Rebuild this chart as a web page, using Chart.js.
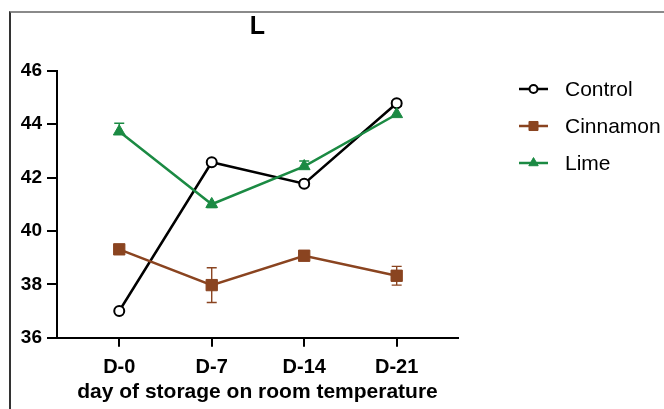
<!DOCTYPE html>
<html><head><meta charset="utf-8">
<script src="https://cdn.jsdelivr.net/npm/chart.js@4"></script>
<style>
html,body{margin:0;padding:0;background:#fff;}
#wrap{position:relative;width:664px;height:409px;overflow:hidden;background:#fff;}
#frame{position:absolute;left:9px;top:11px;width:700px;height:500px;border-top:2px solid #8a8a8a;border-left:2px solid #333;box-sizing:border-box;pointer-events:none;}
canvas{position:absolute;left:0;top:0;}
</style></head><body>
<div id="wrap"><canvas id="c" width="664" height="409"></canvas><div id="frame"></div></div>
<script>
const categories = ['D-0', 'D-7', 'D-14', 'D-21'];
const seriesNames = ['Control', 'Cinnamon', 'Lime'];
const controlValues = [37.0, 42.57, 41.77, 44.78];
const controlErrUp = [0.05, 0.05, 0.1, 0.1];
const controlErrDown = [0.05, 0.05, 0.1, 0.1];
const cinnamonValues = [39.31, 37.97, 39.07, 38.32];
const cinnamonErrUp = [0.15, 0.65, 0.15, 0.35];
const cinnamonErrDown = [0.15, 0.65, 0.15, 0.35];
const limeValues = [43.72, 41.0, 42.42, 44.37];
const limeErrUp = [0.31, 0, 0.2, 0];
const limeErrDown = [0, 0.13, 0, 0];
const yTicks = [36, 38, 40, 42, 44, 46];

const FONT = '"Liberation Sans", Arial, Helvetica, sans-serif';
const colors = ['#000000', '#8a4420', '#1b8a43'];

function pts(vals) { return vals.map((v, i) => ({x: i, y: v})); }

const errorBars = {
  id: 'errorBars',
  beforeDatasetsDraw(chart) {
    const ctx = chart.ctx, xs = chart.scales.x, ys = chart.scales.y;
    chart.data.datasets.forEach((ds) => {
      const up = ds.errUp || [], dn = ds.errDown || [];
      ctx.save();
      ctx.strokeStyle = ds.borderColor;
      ctx.lineWidth = 1.4;
      ds.data.forEach((p, i) => {
        const eu = up[i] || 0, ed = dn[i] || 0;
        if (!eu && !ed) return;
        const x = xs.getPixelForValue(p.x);
        const yt = ys.getPixelForValue(p.y + eu);
        const yb = ys.getPixelForValue(p.y - ed);
        ctx.beginPath();
        ctx.moveTo(x, yt); ctx.lineTo(x, yb);
        if (eu) { ctx.moveTo(x - 5, yt); ctx.lineTo(x + 5, yt); }
        if (ed) { ctx.moveTo(x - 5, yb); ctx.lineTo(x + 5, yb); }
        ctx.stroke();
      });
      ctx.restore();
    });
  }
};

const sideLegend = {
  id: 'sideLegend',
  afterDraw(chart) {
    const ctx = chart.ctx;
    const rows = [89, 126, 163];
    chart.data.datasets.forEach((ds, i) => {
      const y = rows[i];
      ctx.save();
      ctx.strokeStyle = ds.borderColor;
      ctx.lineWidth = 2.5;
      ctx.beginPath(); ctx.moveTo(519, y); ctx.lineTo(548, y); ctx.stroke();
      ctx.fillStyle = ds.pointBackgroundColor;
      ctx.strokeStyle = ds.pointBorderColor;
      ctx.lineWidth = ds.pointBorderWidth;
      Chart.helpers.drawPoint(ctx, {pointStyle: ds.pointStyle, radius: ds.pointRadius * 0.8, borderWidth: ds.pointBorderWidth, rotation: 0}, 533.5, y);
      ctx.fillStyle = '#000';
      ctx.font = '21px ' + FONT;
      ctx.textBaseline = 'middle';
      ctx.textAlign = 'left';
      ctx.fillText(ds.label, 565, y + 1);
      ctx.restore();
    });
  }
};

new Chart(document.getElementById('c'), {
  type: 'line',
  data: {
    datasets: [
      {label: seriesNames[0], data: pts(controlValues), errUp: controlErrUp, errDown: controlErrDown, borderColor: colors[0], borderWidth: 2.5,
       pointStyle: 'circle', pointRadius: 5, pointBackgroundColor: '#ffffff', pointBorderColor: colors[0], pointBorderWidth: 2, order: 3},
      {label: seriesNames[1], data: pts(cinnamonValues), errUp: cinnamonErrUp, errDown: cinnamonErrDown, borderColor: colors[1], borderWidth: 2.5,
       pointStyle: 'rect', pointRadius: 8, pointBackgroundColor: colors[1], pointBorderColor: colors[1], pointBorderWidth: 1, order: 2},
      {label: seriesNames[2], data: pts(limeValues), errUp: limeErrUp, errDown: limeErrDown, borderColor: colors[2], borderWidth: 2.5,
       pointStyle: 'triangle', pointRadius: 6.8, pointBackgroundColor: colors[2], pointBorderColor: colors[2], pointBorderWidth: 1, order: 1}
    ]
  },
  options: {
    responsive: false,
    animation: false,
    devicePixelRatio: 1,
    layout: {padding: {left: 0, right: 206, top: 0, bottom: 0}},
    plugins: {
      legend: {display: false},
      tooltip: {enabled: false},
      title: {display: true, text: 'L', fullSize: false, color: '#000',
              font: {family: FONT, size: 25, weight: 'bold'}, padding: {top: 12, bottom: 28.7}}
    },
    scales: {
      x: {
        type: 'linear', min: -0.673, max: 3.663,
        afterBuildTicks(s) { s.ticks = categories.map((c, i) => ({value: i})); },
        afterFit(s) { s.height = 71.3; },
        grid: {drawOnChartArea: false, drawTicks: true, tickLength: 9, color: '#000', lineWidth: 2},
        border: {display: true, color: '#000', width: 2},
        ticks: {color: '#000', padding: 9, maxRotation: 0, autoSkip: false,
                font: {family: FONT, size: 20, weight: 'bold'},
                callback: (v) => categories[v]},
        title: {display: true, text: 'day of storage on room temperature', color: '#000',
                font: {family: FONT, size: 21, weight: 'bold'}, padding: {top: 0, bottom: 4.5}}
      },
      y: {
        min: 36, max: 46,
        afterBuildTicks(s) { s.ticks = yTicks.map(v => ({value: v})); },
        afterFit(s) { s.width = 57; },
        grid: {drawOnChartArea: false, drawTicks: true, tickLength: 10, color: '#000', lineWidth: 2},
        border: {display: true, color: '#000', width: 2},
        ticks: {color: '#000', padding: 5, font: {family: FONT, size: 19, weight: 'bold'}}
      }
    }
  },
  plugins: [errorBars, sideLegend]
});
</script>
</body></html>
